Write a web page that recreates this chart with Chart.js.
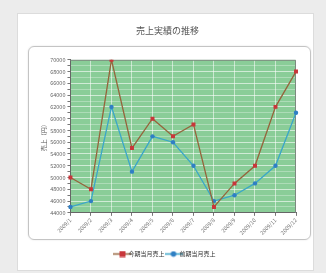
<!DOCTYPE html>
<html>
<head>
<meta charset="utf-8">
<script src="https://cdn.jsdelivr.net/npm/chart.js@4/dist/chart.umd.min.js"></script>
<style>
  html, body { margin: 0; padding: 0; background: #ececec; }
  body { width: 326px; height: 273px; position: relative; overflow: hidden; }
  .card { position: absolute; left: 17px; top: 13px; width: 297px; height: 258px; background: #fff; border: 1px solid #dcdcdc; box-sizing: border-box; }
  .panel { position: absolute; left: 28px; top: 46px; width: 283px; height: 194px; border: 1px solid #c4c4c4; border-radius: 6px; box-sizing: border-box; box-shadow: 0 0 2px rgba(0,0,0,0.12); }
  #salesChart { position: absolute; left: 17px; top: 13px; }
</style>
</head>
<body>
<div class="card"></div>
<div class="panel"></div>
<canvas id="salesChart" width="298" height="256"></canvas>
<script>
const months = ['2009/1', '2009/2', '2009/3', '2009/4', '2009/5', '2009/6', '2009/7', '2009/8', '2009/9', '2009/10', '2009/11', '2009/12'];
const currentSales = [50000, 48000, 70000, 55000, 60000, 57000, 59000, 45000, 49000, 52000, 62000, 68000];
const previousSales = [45000, 46000, 62000, 51000, 57000, 56000, 52000, 46000, 47000, 49000, 52000, 61000];
const yMin = 44000;
const yMax = 70000;

const font = "'Noto Sans CJK JP', 'Noto Sans', sans-serif";

// small line+marker icon for the legend
function legendIcon(lineColor, markColor, square) {
  const c = document.createElement('canvas');
  c.width = 18; c.height = 7;
  const g = c.getContext('2d');
  g.strokeStyle = lineColor; g.lineWidth = 1.5;
  g.beginPath(); g.moveTo(0, 3.5); g.lineTo(18, 3.5); g.stroke();
  g.fillStyle = markColor;
  if (square) {
    g.fillRect(6, 0.5, 6, 6);
  } else {
    g.beginPath(); g.arc(9, 3.5, 2.8, 0, Math.PI * 2); g.fill();
  }
  return c;
}

const plotBg = {
  id: 'plotBg',
  beforeDraw(chart) {
    const { ctx, chartArea: a } = chart;
    ctx.save();
    ctx.fillStyle = '#8acd98';
    ctx.fillRect(a.left, a.top, a.right - a.left, a.bottom - a.top);
    ctx.restore();
  },
  beforeDatasetsDraw(chart) {
    const { ctx, chartArea: a } = chart;
    ctx.save();
    ctx.strokeStyle = '#7d8a80';
    ctx.lineWidth = 1;
    ctx.beginPath();
    ctx.moveTo(a.left, a.top + 0.5);
    ctx.lineTo(a.right - 0.5, a.top + 0.5);
    ctx.lineTo(a.right - 0.5, a.bottom);
    ctx.stroke();
    ctx.restore();
  }
};

const ctx = document.getElementById('salesChart').getContext('2d');
new Chart(ctx, {
  type: 'line',
  data: {
    labels: months,
    datasets: [
      {
        label: '今期当月売上',
        data: currentSales,
        borderColor: '#95643c',
        backgroundColor: '#c8363a',
        borderWidth: 1.3,
        pointStyle: 'rect',
        pointRadius: 2.8,
        pointBorderWidth: 0,
        tension: 0
      },
      {
        label: '前期当月売上',
        data: previousSales,
        borderColor: '#3aa6c9',
        backgroundColor: '#2f7fc4',
        borderWidth: 1.3,
        pointStyle: 'circle',
        pointRadius: 2.2,
        pointBorderWidth: 0,
        tension: 0
      }
    ]
  },
  options: {
    responsive: false,
    devicePixelRatio: 1,
    animation: false,
    layout: { padding: { left: 22, right: 19, top: 0, bottom: 2 } },
    plugins: {
      title: {
        display: true,
        text: '売上実績の推移',
        color: '#555',
        font: { family: font, size: 9, weight: 'normal' },
        padding: { top: 12, bottom: 24 }
      },
      legend: {
        position: 'bottom',
        labels: {
          color: '#333',
          font: { family: font, size: 6 },
          boxWidth: 18,
          boxHeight: 7,
          padding: 6,
          generateLabels(chart) {
            return chart.data.datasets.map((ds, i) => ({
              text: ds.label,
              pointStyle: legendIcon(ds.borderColor, ds.backgroundColor, i === 0),
              fontColor: '#333',
              datasetIndex: i,
              lineWidth: 0,
              strokeStyle: 'transparent',
              fillStyle: 'transparent'
            }));
          },
          usePointStyle: true
        }
      },
      tooltip: { enabled: false }
    },
    scales: {
      x: {
        offset: false,
        grid: { color: 'rgba(255,255,255,0.55)', tickLength: 3, tickColor: '#777' },
        border: { color: '#666' },
        ticks: {
          color: '#777',
          font: { family: font, size: 5.5 },
          maxRotation: 45,
          minRotation: 45,
          padding: 1,
          autoSkip: false
        },
        afterFit(scale) { scale.height += 8; }
      },
      y: {
        min: yMin,
        max: yMax,
        title: {
          display: true,
          text: '売上（円）',
          color: '#555',
          font: { family: font, size: 6 },
          padding: 1
        },
        grid: {
          color: c => c.tick && c.tick.value % 2000 === 0 ? 'rgba(255,255,255,0.6)' : 'rgba(255,255,255,0.3)',
          tickLength: 3,
          tickColor: '#777'
        },
        border: { color: '#666' },
        ticks: {
          stepSize: 1000,
          color: '#666',
          font: { family: font, size: 5.5 },
          padding: 2,
          autoSkip: false,
          callback: v => v % 2000 === 0 ? String(v) : ''
        }
      }
    }
  },
  plugins: [plotBg]
});
</script>
</body>
</html>
